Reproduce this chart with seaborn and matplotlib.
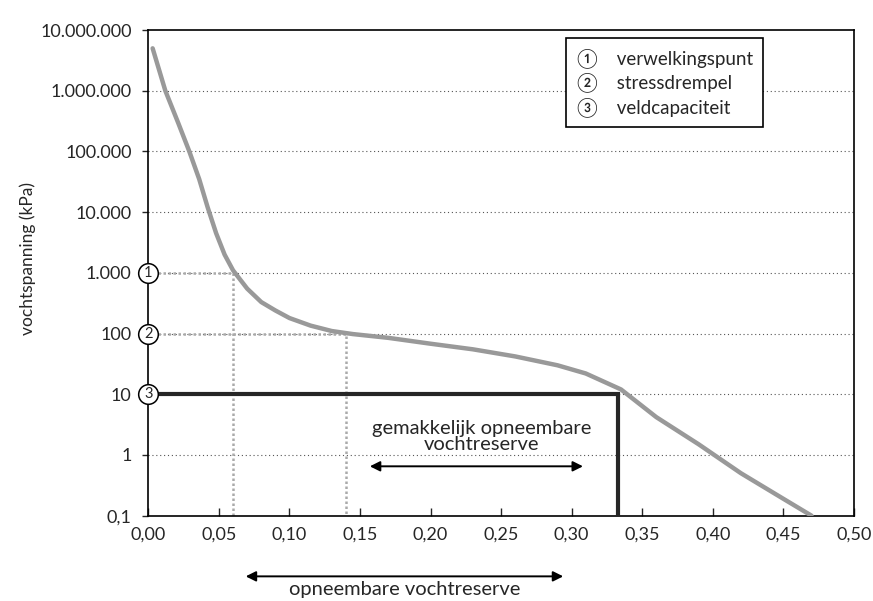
import seaborn as sns
import matplotlib.pyplot as plt
import pandas as pd
from matplotlib.ticker import FixedLocator, FixedFormatter

# pF curve
vocht = [0.003, 0.012, 0.021, 0.029, 0.036, 0.042, 0.048, 0.054, 0.06,
         0.07, 0.08, 0.09, 0.10, 0.115, 0.13, 0.145, 0.17, 0.20, 0.23, 0.26,
         0.29, 0.31, 0.335, 0.36, 0.39, 0.42, 0.45, 0.47]
spanning = [5e6, 1e6, 3e5, 1e5, 3.5e4, 1.2e4, 4500, 2000, 1100,
            550, 330, 240, 180, 135, 110, 98, 85, 68, 55, 42,
            30, 22, 12, 4.2, 1.5, 0.5, 0.19, 0.1]

y_ticks = [0.1, 1, 10, 100, 1e3, 1e4, 1e5, 1e6, 1e7]
y_labels = ['0,1', '1', '10', '100', '1.000', '10.000', '100.000', '1.000.000', '10.000.000']
x_ticks = [0.0, 0.05, 0.10, 0.15, 0.20, 0.25, 0.30, 0.35, 0.40, 0.45, 0.50]
x_labels = ['0,00', '0,05', '0,10', '0,15', '0,20', '0,25', '0,30', '0,35', '0,40', '0,45', '0,50']

punten = ['1', '2', '3']
punt_namen = ['verwelkingspunt', 'stressdrempel', 'veldcapaciteit']
punt_spanning = [1000, 100, 10]
punt_vocht = [0.06, 0.14, 0.333]

df = pd.DataFrame({'vocht': vocht, 'spanning': spanning})

sns.set_style('ticks')
plt.rcParams['font.family'] = ['Lato', 'DejaVu Sans']

fig = plt.figure(figsize=(8.73, 6.01), dpi=100)
ax = fig.add_axes([0.17, 0.142, 0.808, 0.808])

ax.set_yscale('log')
ax.set_ylim(0.1, 1e7)
ax.set_xlim(0, 0.5)

for t in y_ticks[1:-1]:
    ax.axhline(t, color='#555555', lw=0.8, ls=(0, (1, 2.5)), zorder=1)

# wilting point and stress threshold guides
ax.plot([0, punt_vocht[0], punt_vocht[0]], [1000, 1000, 0.1], color='#aaaaaa',
        lw=1.8, ls=(0, (1, 1)), zorder=2)
ax.plot([0, punt_vocht[1], punt_vocht[1]], [100, 100, 0.1], color='#aaaaaa',
        lw=1.8, ls=(0, (1, 1)), zorder=2)
# field capacity box
ax.plot([0, punt_vocht[2], punt_vocht[2]], [10, 10, 0.1], color='#262626',
        lw=3, zorder=3, solid_joinstyle='miter')

sns.lineplot(data=df, x='vocht', y='spanning', ax=ax, color='#999999', lw=3.2,
             zorder=4, sort=False)

ax.yaxis.set_major_locator(FixedLocator(y_ticks))
ax.yaxis.set_major_formatter(FixedFormatter(y_labels))
ax.yaxis.set_minor_locator(FixedLocator([]))
ax.set_xticks(x_ticks)
ax.set_xticklabels(x_labels)
ax.tick_params(axis='x', direction='in', length=6, width=1, labelsize=13, pad=8)
ax.tick_params(axis='y', direction='out', length=4, width=1, labelsize=13, pad=8)
for s in ax.spines.values():
    s.set_visible(True)
    s.set_linewidth(1.2)
    s.set_color('black')

ax.set_xlabel('')
ax.set_ylabel('vochtspanning (kPa)', fontsize=12.5)
ax.yaxis.set_label_coords(-0.16, 0.53)

# circled numbers on the y axis
ax.scatter([0, 0, 0], punt_spanning, s=200, facecolor='white', edgecolor='black',
           lw=1.1, zorder=6, clip_on=False)
for p, v in zip(punten, punt_spanning):
    ax.text(0, v, p, ha='center', va='center', fontsize=10.5, zorder=7)

# legend box
legenda = '\n'.join(c + '    ' + n for c, n in zip(['\u2460', '\u2461', '\u2462'], punt_namen))
ax.text(0.607, 0.963, legenda, transform=ax.transAxes, ha='left', va='top',
        fontsize=13.5, linespacing=1.3,
        bbox=dict(boxstyle='square,pad=0.55', fc='white', ec='black', lw=1.2), zorder=8)

# easily available water
ax.text(0.236, 2.0, 'gemakkelijk opneembare\nvochtreserve', ha='center', va='center',
        fontsize=14.5, linespacing=0.9, zorder=5)
ax.annotate('', xy=(0.155, 0.65), xytext=(0.31, 0.65),
            arrowprops=dict(arrowstyle='<|-|>', color='black', lw=1.4,
                            mutation_scale=15), zorder=5)

# available water below the axis
ax.annotate('', xy=(0.067, -0.125), xytext=(0.296, -0.125),
            xycoords=('data', 'axes fraction'),
            arrowprops=dict(arrowstyle='<|-|>', color='black', lw=1.4,
                            mutation_scale=15), annotation_clip=False)
ax.text(0.182, -0.153, 'opneembare vochtreserve', transform=ax.get_xaxis_transform(),
        ha='center', va='center', fontsize=14.5)

fig.savefig('out.png', dpi=100)
